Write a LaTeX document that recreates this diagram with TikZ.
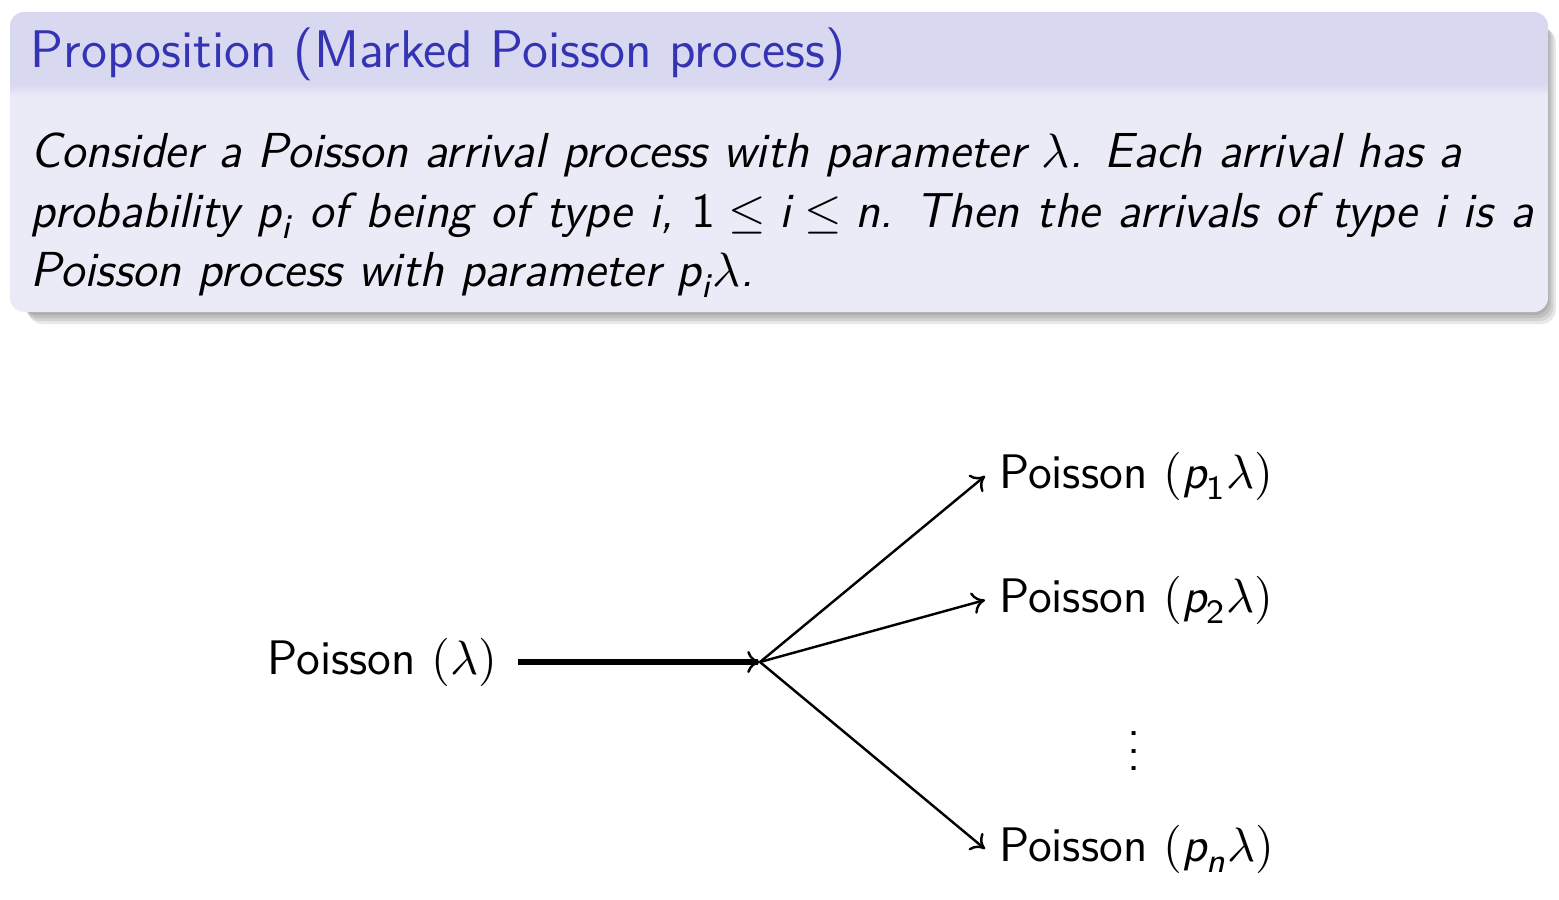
\documentclass[tikz,border=0pt]{standalone}
\usepackage{fontspec}
\usepackage{amsmath}
\usetikzlibrary{arrows.meta}
\definecolor{titlebg}{RGB}{216,216,241}
\definecolor{bodybg}{RGB}{235,235,247}
\definecolor{titlefg}{RGB}{51,51,179}
\newcommand\mv[1]{\text{\sffamily\itshape #1}}
\newcommand\mn[1]{\text{\sffamily\upshape #1}}
\begin{document}
\begin{tikzpicture}[x=0.2268pt,y=-0.2268pt,
  lbl/.style={font=\sffamily\fontsize{11}{13.6}\selectfont, inner sep=3pt},
  bodyline/.style={anchor=base west, inner sep=0pt, font=\sffamily\itshape\fontsize{11.15}{13.6}\selectfont},
  titletext/.style={anchor=base west, inner sep=0pt, text=titlefg, font=\sffamily\fontsize{12}{14.5}\selectfont},
  mainarrow/.style={line width=1.15pt, -{To[line width=0.55pt,length=2.9pt,width=5pt]}},
  brancharrow/.style={line width=0.55pt, -{To[length=2.9pt,width=5pt]}},
  blockshape/.style={rounded corners=3.2pt}]
\useasboundingbox (0,0) rectangle (1559,899);
% shadow
\foreach \k in {0,1,2,3,4}{
  \fill[black, opacity=0.09, blockshape] (20+2*\k,20+2*\k) rectangle (1547+2.2*\k,312+3*\k);
}
% block
\fill[bodybg, blockshape] (10,12) rectangle (1548,312);
\begin{scope}
  \clip[blockshape] (10,12) rectangle (1548,312);
  \fill[titlebg] (10,12) rectangle (1548,84);
  \shade[top color=titlebg, bottom color=bodybg] (10,84) rectangle (1548,96);
\end{scope}
\node[titletext] (title) at (30,67) {Proposition (Marked Poisson process)};
\node[bodyline] (l1) at (30,167) {Consider a Poisson arrival process with parameter $\lambda$. Each arrival has a};
\node[bodyline] (l2) at (30,227) {\spaceskip=1.08\fontdimen2\font plus 1pt probability $\mv{p}_{\mv{i}}$ of being of type $\mv{i}$, $\mn{1}\leq \mv{i}\leq \mv{n}$. Then the arrivals of type $\mv{i}$ is a};
\node[bodyline] (l3) at (30,286) {Poisson process with parameter $\mv{p}_{\mv{i}}\lambda$.};
% diagram
\node[lbl, anchor=east, inner xsep=4.5pt] (src) at (518,662) {Poisson $(\lambda)$};
\coordinate (b) at (760,662);
\node[lbl, anchor=west] (p1) at (985,476) {Poisson $(\mv{p}_{\mn{1}}\lambda)$};
\node[lbl, anchor=west] (p2) at (985,600) {Poisson $(\mv{p}_{\mn{2}}\lambda)$};
\node[lbl, anchor=west] (pn) at (985,849) {Poisson $(\mv{p}_{\mv{n}}\lambda)$};
\node[lbl] (dots) at (1134,738) {$\vdots$};
\draw[mainarrow] (src.east) -- (b);
\draw[brancharrow] (b) -- (p1.west);
\draw[brancharrow] (b) -- (p2.west);
\draw[brancharrow] (b) -- (pn.west);
\end{tikzpicture}
\end{document}
